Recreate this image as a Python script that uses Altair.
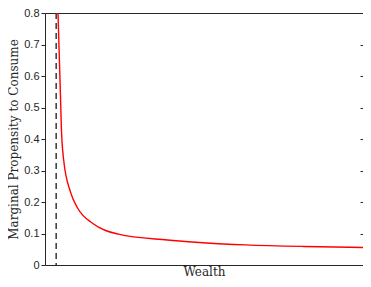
import altair as alt
import pandas as pd

# Values
wealth = [0.409, 0.438, 0.468, 0.497, 0.514, 0.585, 0.800, 1.025, 1.517,
          2.308, 3.846, 5.077, 6.308, 8.154, 10.0]
mpc = [0.80, 0.70, 0.60, 0.50, 0.438, 0.335, 0.232, 0.181, 0.131,
       0.098, 0.0795, 0.070, 0.064, 0.0588, 0.0557]
wealth_floor = 0.36
y_ticks = [0, 0.1, 0.2, 0.3, 0.4, 0.5, 0.6, 0.7, 0.8]

df = pd.DataFrame({"wealth": wealth, "mpc": mpc})

xs = alt.Scale(domain=[0, 10], nice=False, zero=False)
ys = alt.Scale(domain=[0, 0.8], nice=False)

curve = alt.Chart(df).mark_line(color="#ff0000", strokeWidth=1.4, interpolate="monotone").encode(
    x=alt.X("wealth:Q", scale=xs, title="Wealth",
            axis=alt.Axis(orient="bottom", labels=False, ticks=False, grid=False,
                          domainColor="#262626", titlePadding=1)),
    y=alt.Y("mpc:Q", scale=ys, title="Marginal Propensity to Consume",
            axis=alt.Axis(orient="left", values=y_ticks, format=".1~f", grid=False,
                          tickSize=4, labelPadding=2, titlePadding=3,
                          domainColor="#262626", tickColor="#262626")),
)

floor = alt.Chart(df).mark_rule(color="#444444", strokeWidth=1, strokeDash=[6, 4]).encode(
    x=alt.datum(wealth_floor, scale=xs, axis=None),
)

frame = alt.Chart(df).mark_line(opacity=0).encode(
    x=alt.X("wealth:Q", scale=xs, title=None,
            axis=alt.Axis(orient="top", labels=False, ticks=False, grid=False,
                          domainColor="#262626")),
    y=alt.Y("mpc:Q", scale=ys, title=None,
            axis=alt.Axis(orient="right", values=y_ticks, labels=False, domain=False,
                          grid=False, tickSize=3, offset=-3, tickColor="#262626")),
)

chart = alt.layer(curve, floor, frame).resolve_axis(
    x="independent", y="independent"
).properties(
    width=318, height=252,
    padding={"left": 37, "top": 5, "right": 0, "bottom": 14},
    autosize=alt.AutoSizeParams(type="none"),
).configure_view(stroke=None).configure_axis(
    labelFont="Liberation Sans", labelFontSize=11, labelColor="#262626",
    titleFont="DejaVu Serif", titleFontSize=12, titleFontWeight="normal",
    titleColor="#262626",
)

chart.save("out.html", embed_options={"renderer": "svg", "actions": False})
